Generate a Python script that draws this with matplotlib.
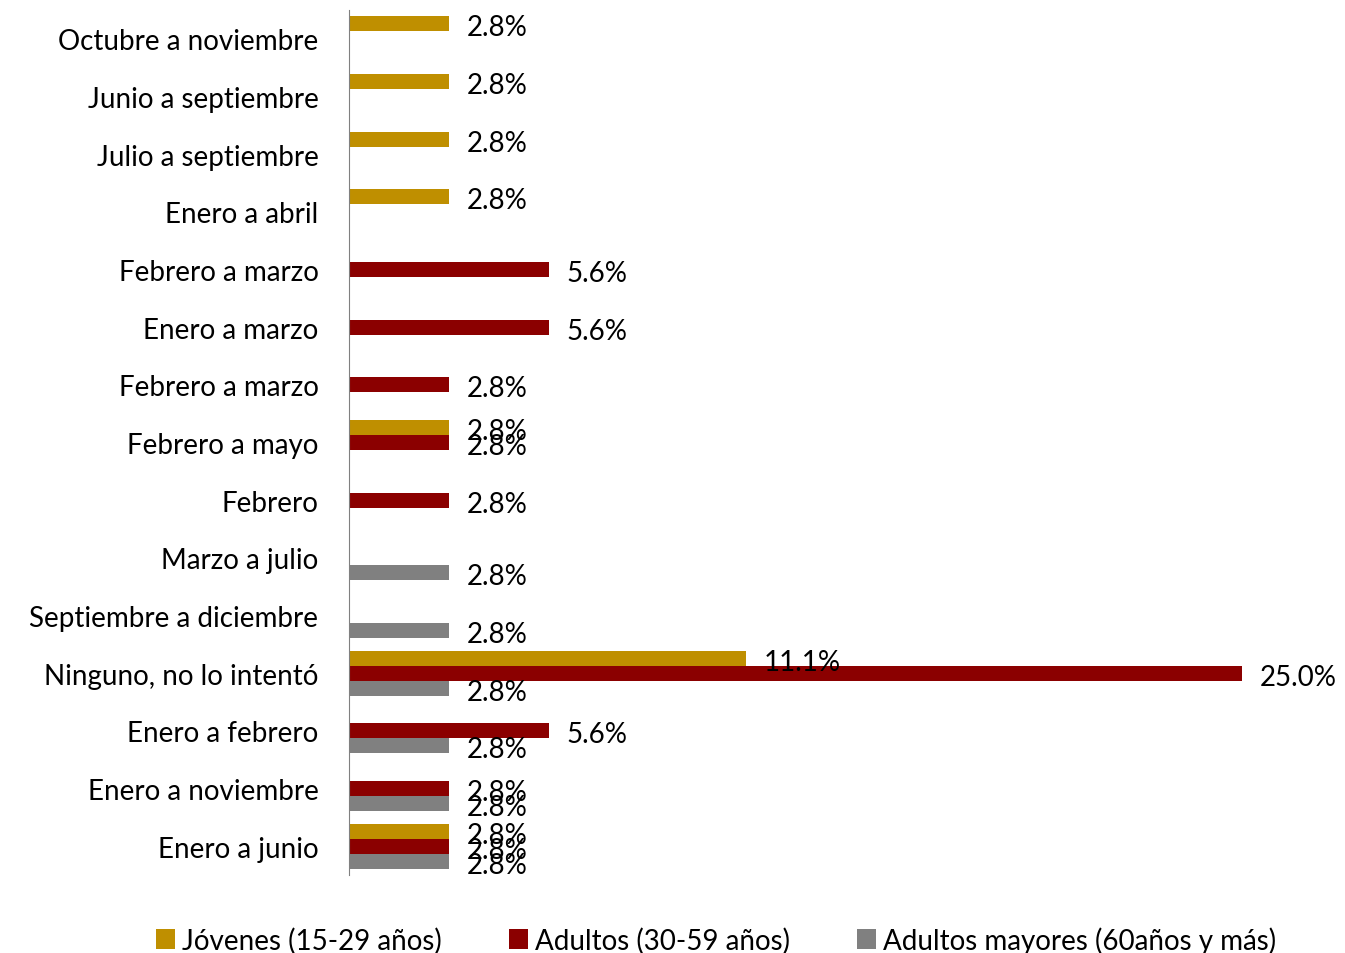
import matplotlib.pyplot as plt
import numpy as np

categorias = ["Octubre a noviembre", "Junio a septiembre", "Julio a septiembre",
              "Enero a abril", "Febrero a marzo", "Enero a marzo", "Febrero a marzo",
              "Febrero a mayo", "Febrero", "Marzo a julio", "Septiembre a diciembre",
              "Ninguno, no lo intentó", "Enero a febrero", "Enero a noviembre",
              "Enero a junio"]
# None = sin barra
jovenes = [2.8, 2.8, 2.8, 2.8, None, None, None, 2.8, None, None, None, 11.1, None, None, 2.8]
adultos = [None, None, None, None, 5.6, 5.6, 2.8, 2.8, 2.8, None, None, 25.0, 5.6, 2.8, 2.8]
mayores = [None, None, None, None, None, None, None, None, None, 2.8, 2.8, 2.8, 2.8, 2.8, 2.8]
series = ["Jóvenes (15-29 años)", "Adultos (30-59 años)", "Adultos mayores (60años y más)"]
colores = ["#BF8F00", "#8B0000", "#808080"]

plt.rcParams['font.family'] = ['Lato', 'DejaVu Sans']

fig = plt.figure(figsize=(13.45, 9.54), dpi=100)
ax = fig.add_axes([349 / 1345, 1 - 876 / 954, 1 - 349 / 1345, 865 / 954])

y = np.arange(len(categorias))
h = 0.26
for vals, off, col, nom in zip([jovenes, adultos, mayores], [-h, 0, h], colores, series):
    idx = [i for i, v in enumerate(vals) if v is not None]
    v = [vals[i] for i in idx]
    ax.barh(y[idx] + off, v, height=h, color=col, label=nom)
    for i, val in zip(idx, v):
        ax.text(val + 0.5, i + off + 0.06, f"{val:.1f}%", va="center", ha="left", fontsize=20)

ax.set_xlim(0, 27.88)
ax.set_ylim(14.5, -0.5)
ax.set_yticks(y)
ax.set_yticklabels(categorias, fontsize=20)
ax.tick_params(axis="y", length=0, pad=22)
ax.set_xticks([])
for s in ["top", "right", "bottom"]:
    ax.spines[s].set_visible(False)
ax.spines["left"].set_color("#808080")
ax.patch.set_alpha(0)

fig.legend(loc="lower left", bbox_to_anchor=(131 / 1345, -0.027), ncol=3, frameon=False,
           fontsize=20, handlelength=0.7, handleheight=0.7, handletextpad=0.25,
           columnspacing=2.4)

plt.savefig("out.png", dpi=100)
